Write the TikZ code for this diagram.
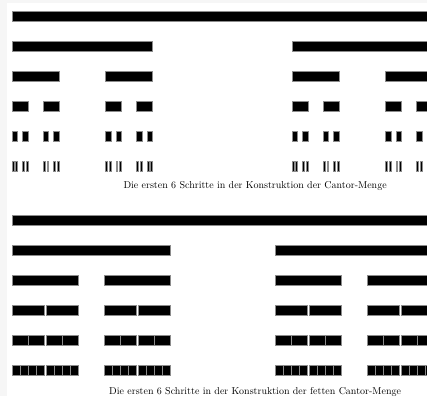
\documentclass[tikz,border=0pt]{standalone}
\usepackage{tikz}
\definecolor{Frame}{HTML}{F6F6F6}
\definecolor{Edge}{HTML}{8C8C8C}
\tikzset{
  bar/.style={fill=black,draw=Edge,line width=0.6pt},
  caption/.style={anchor=base west,inner sep=0pt,font=\fontsize{10}{12}\selectfont}
}
% Cantor set: #1 left, #2 width, #3 top, #4 steps still to go
\newcommand\cantorbar[4]{%
  \draw[bar] (#1,#3) rectangle ++(#2,9.5);
  \ifnum#4>0\relax
    \pgfmathsetmacro\nw{#2/3}%
    \pgfmathsetmacro\nx{#1+2*#2/3}%
    \pgfmathsetmacro\ny{#3+30}%
    \edef\next{\noexpand\cantorbar{#1}{\nw}{\ny}{\the\numexpr#4-1\relax}%
      \noexpand\cantorbar{\nx}{\nw}{\ny}{\the\numexpr#4-1\relax}}%
    \next
  \fi}
% fat Cantor set: #1 left, #2 width, #3 top, #4 step (1..6)
\newcommand\fatbar[4]{%
  \draw[bar] (#1,#3) rectangle ++(#2,9.5);
  \ifnum#4<6\relax
    \ifcase#4\or\def\gap{105}\or\def\gap{26.25}\or\def\gap{1.64}\or\def\gap{0.01}\or\def\gap{0}\fi
    \pgfmathsetmacro\nw{(#2-\gap)/2}%
    \pgfmathsetmacro\nx{#1+\nw+\gap}%
    \pgfmathsetmacro\ny{#3+30}%
    \edef\next{\noexpand\fatbar{#1}{\nw}{\ny}{\the\numexpr#4+1\relax}%
      \noexpand\fatbar{\nx}{\nw}{\ny}{\the\numexpr#4+1\relax}}%
    \next
  \fi}

\begin{document}
\begin{tikzpicture}[x=1pt,y=-1pt]
  \useasboundingbox (0,0) rectangle (427,396);
  \clip (0,0) rectangle (427,396);
  \fill[Frame] (0,0) rectangle (427,396);
  \fill[white] (7.3,3.3) rectangle (427,396);
  % Cantor-Menge
  \cantorbar{12.3}{420}{11.5}{5}
  \node[caption] (cantor) at (123.3,188.5) {Die ersten 6 Schritte in der Konstruktion der Cantor-Menge};
  % fette Cantor-Menge
  \fatbar{12.3}{420.7}{215.5}{1}
  \node[caption] (fat) at (109,394) {Die ersten 6 Schritte in der Konstruktion der fetten Cantor-Menge};
\end{tikzpicture}
\end{document}
